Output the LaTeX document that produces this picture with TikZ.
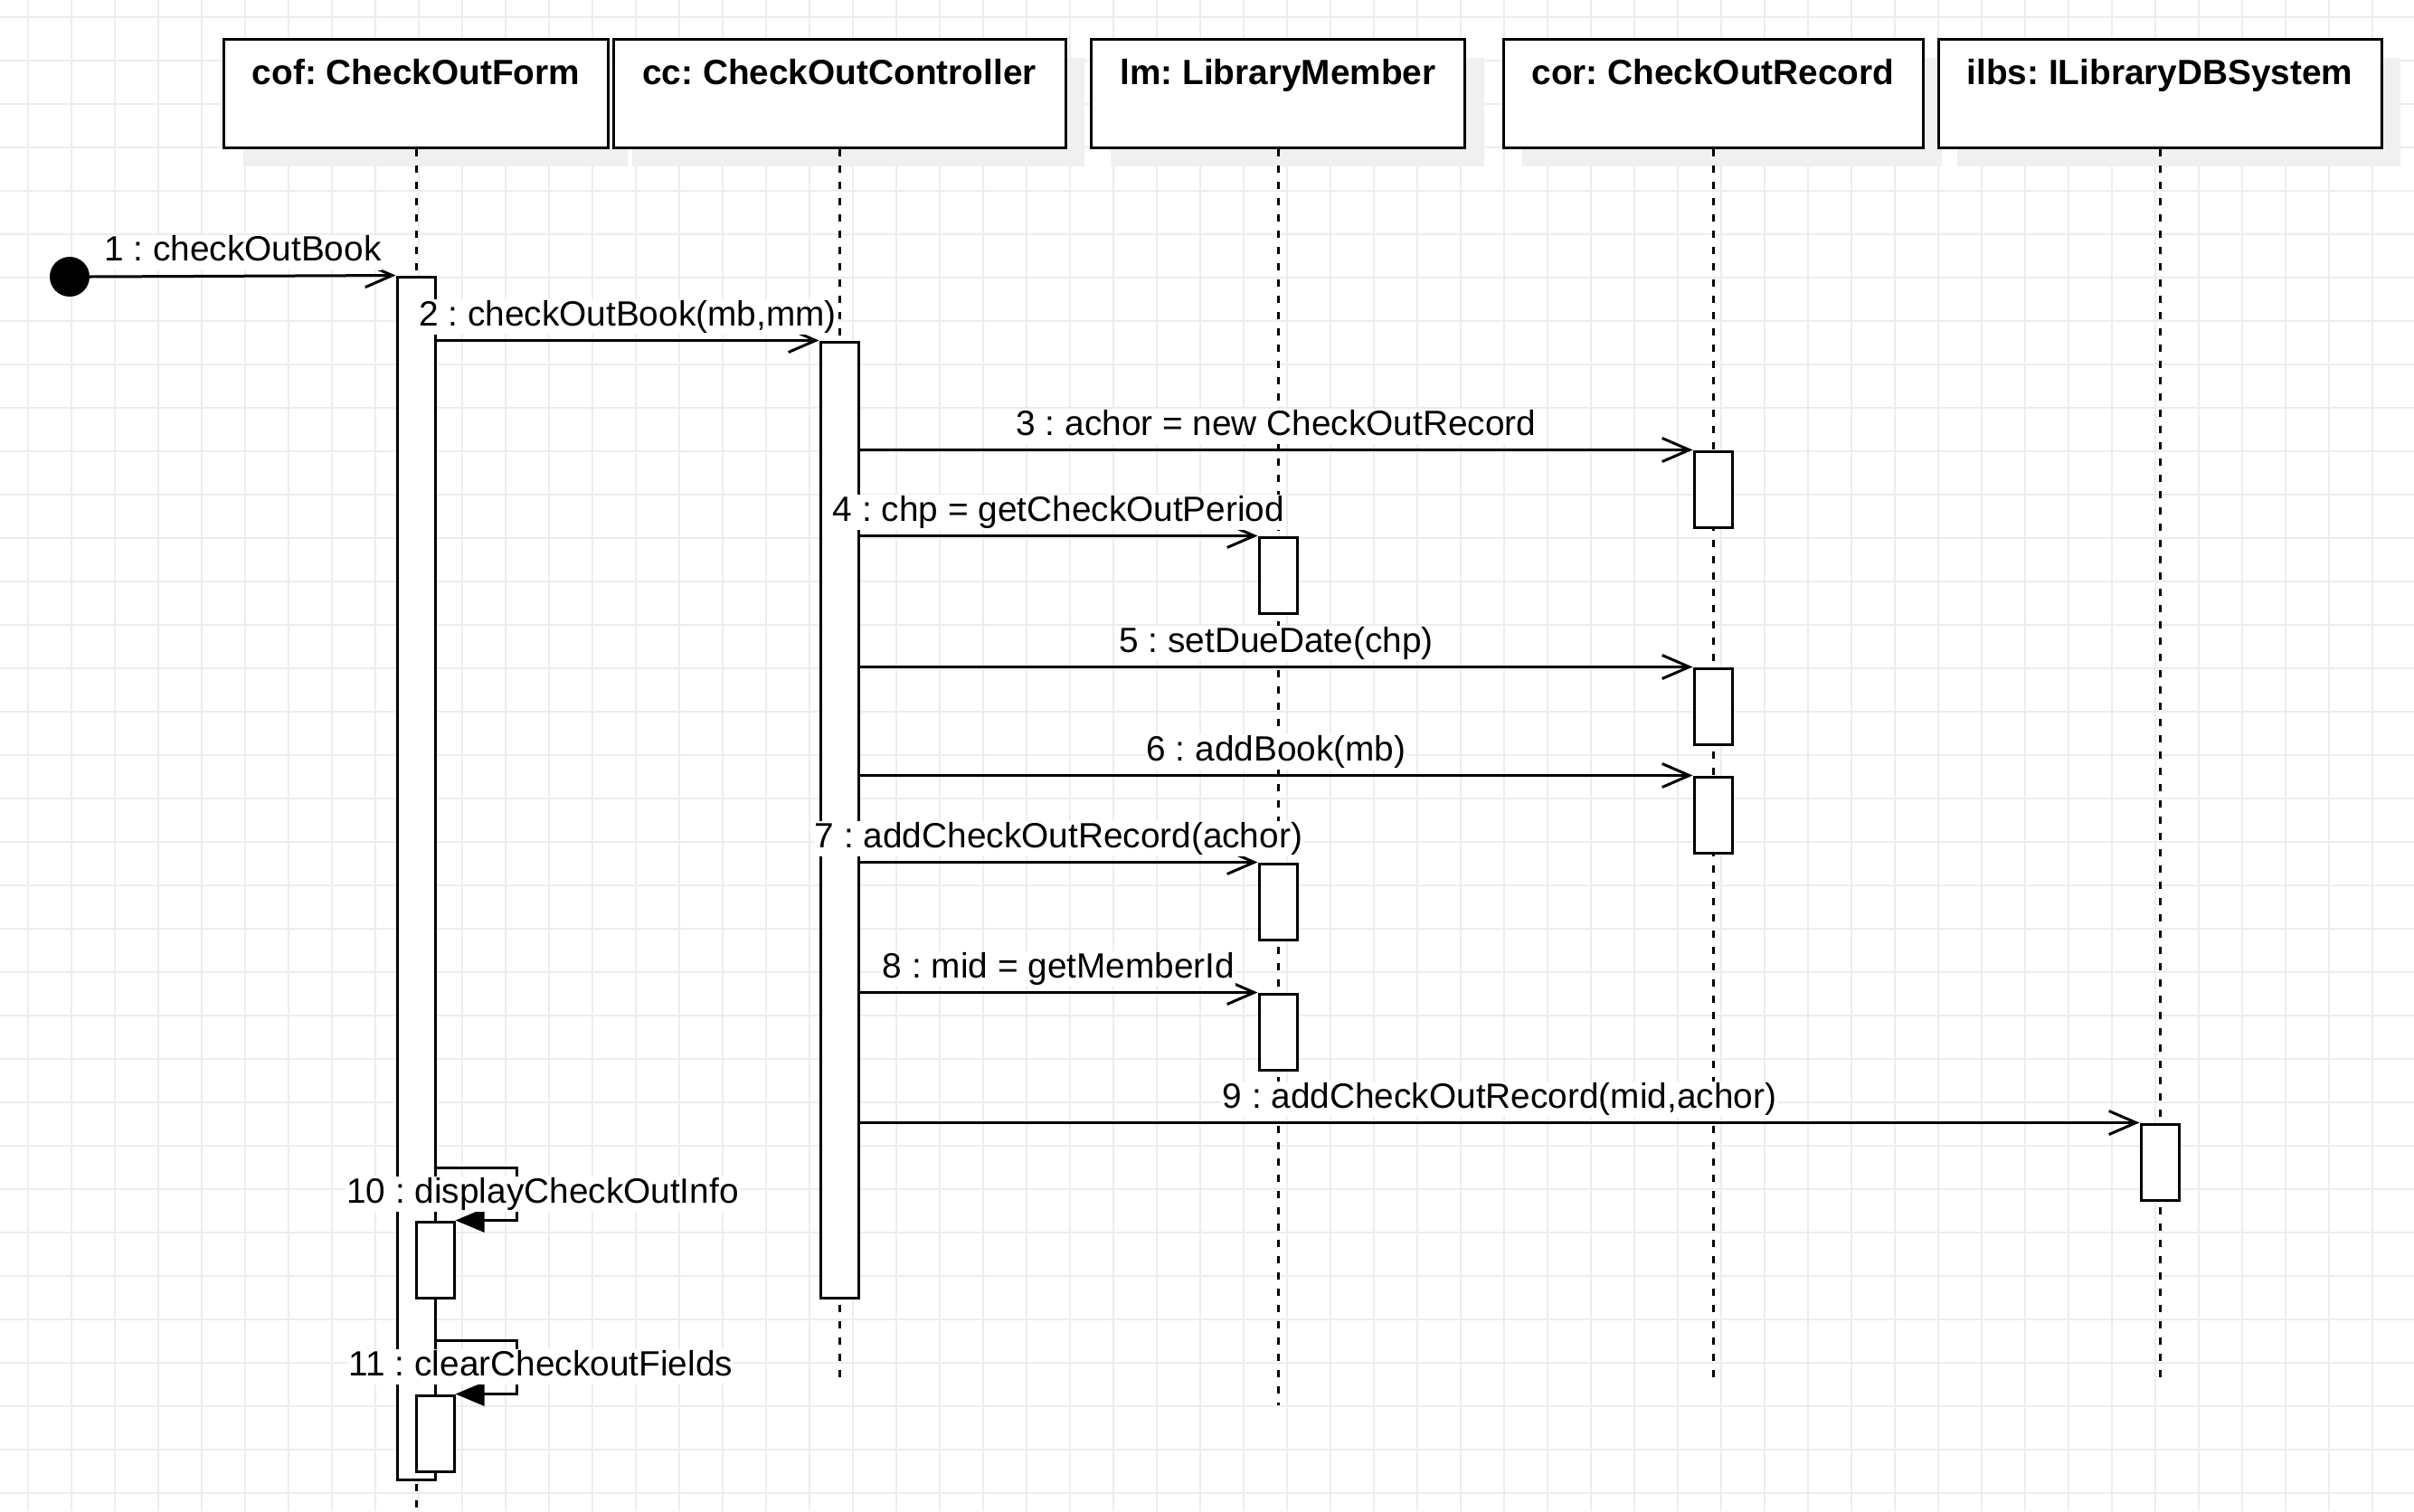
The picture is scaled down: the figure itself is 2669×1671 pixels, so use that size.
\documentclass[tikz,border=0pt]{standalone}
\usepackage{fontspec}
\setmainfont{Liberation Sans}
\usetikzlibrary{arrows.meta,calc,shadows}
\definecolor{gridc}{HTML}{EDEDED}
\definecolor{shadec}{HTML}{F0F0F0}
\begin{document}
\frenchspacing
\begin{tikzpicture}[x=1pt,y=-1pt,
  gridline/.style={draw=gridc, line width=1.8pt},
  headbox/.style={draw=black, fill=white, line width=3pt, minimum height=120pt, inner sep=0pt,
    drop shadow={shadow xshift=21pt, shadow yshift=-21pt, fill=shadec, opacity=1}},
  headtext/.style={font=\fontsize{38.8pt}{46pt}\selectfont\bfseries, inner sep=0pt, anchor=base},
  lifeline/.style={line width=3pt, dash pattern=on 8pt off 10pt},
  actbar/.style={draw=black, fill=white, line width=3pt, minimum width=42pt, inner sep=0pt},
  msg/.style={line width=3pt, -{Straight Barb[length=30pt,width=26pt]}},
  selfmsg/.style={line width=3pt, line join=miter, -{Triangle[length=32pt,width=26pt]}},
  labelbase/.style={font=\fontsize{38.8pt}{46pt}\selectfont, fill=white, inner xsep=1pt,
    inner ysep=1pt, text height=28pt, text depth=9pt, anchor=base},
  msglabel/.style={labelbase, yshift=16.5pt},
]
% canvas
\useasboundingbox[fill=white] (0,0) rectangle (2669,1671);
\foreach \gx in {0,...,54} \draw[gridline] ({31+48*\gx},0) -- ({31+48*\gx},1671);
\foreach \gy in {0,...,34} \draw[gridline] (0,{19+48*\gy}) -- (2669,{19+48*\gy});

% object headers
\node[headbox, minimum width=425pt] (cof)  at (460,103)  {};
\node[headbox, minimum width=500pt] (cc)   at (928,103)  {};
\node[headbox, minimum width=413pt] (lm)   at (1413,103) {};
\node[headbox, minimum width=464pt] (cor)  at (1894,103) {};
\node[headbox, minimum width=490pt] (ilbs) at (2388,103) {};
\node[headtext] (tcof)  at ([yshift=-52pt]cof.north)  {cof: CheckOutForm};
\node[headtext] (tcc)   at ([yshift=-52pt]cc.north)   {cc: CheckOutController};
\node[headtext] (tlm)   at ([yshift=-52pt]lm.north)   {lm: LibraryMember};
\node[headtext] (tcor)  at ([yshift=-52pt]cor.north)  {cor: CheckOutRecord};
\node[headtext] (tilbs) at ([yshift=-52pt]ilbs.north) {ilbs: ILibraryDBSystem};

% lifelines
\coordinate (ecof)  at (460,1671);
\coordinate (ecc)   at (928,1524);
\coordinate (elm)   at (1413,1554);
\coordinate (ecor)  at (1894,1524);
\coordinate (eilbs) at (2388,1524);
\draw[lifeline] (cof.south)  -- (ecof);
\draw[lifeline] (cc.south)   -- (ecc);
\draw[lifeline] (lm.south)   -- (elm);
\draw[lifeline] (cor.south)  -- (ecor);
\draw[lifeline] (ilbs.south) -- (eilbs);

% activation bars
\node[actbar, minimum height=1330pt] (acof)  at (460,971)   {};
\node[actbar, minimum height=1057pt] (acc)   at (928,906.5) {};
\node[actbar, minimum height=84pt]   (acor1) at (1894,541)  {};
\node[actbar, minimum height=84pt]   (alm1)  at (1413,636)  {};
\node[actbar, minimum height=84pt]   (acor2) at (1894,781)  {};
\node[actbar, minimum height=84pt]   (acor3) at (1894,901)  {};
\node[actbar, minimum height=84pt]   (alm2)  at (1413,997)  {};
\node[actbar, minimum height=84pt]   (alm3)  at (1413,1141) {};
\node[actbar, minimum height=84pt]   (ailbs) at (2388,1285) {};
\node[actbar, minimum height=84pt]   (aself1) at (481,1393) {};
\node[actbar, minimum height=84pt]   (aself2) at (481,1585) {};

% initial message source
\node[circle, fill=black, minimum size=44pt, inner sep=0pt] (start) at (77,306) {};

% messages
\draw[msg] (start.east) -- (acof.north west);
\draw[msg] (acof.east |- acc.north west) -- (acc.north west);
\draw[msg] (acc.east |- acor1.north west) -- (acor1.north west);
\draw[msg] (acc.east |- alm1.north west) -- (alm1.north west);
\draw[msg] (acc.east |- acor2.north west) -- (acor2.north west);
\draw[msg] (acc.east |- acor3.north west) -- (acor3.north west);
\draw[msg] (acc.east |- alm2.north west) -- (alm2.north west);
\draw[msg] (acc.east |- alm3.north west) -- (alm3.north west);
\draw[msg] (acc.east |- ailbs.north west) -- (ailbs.north west);
\coordinate (s10) at (481,1291);
\coordinate (s11) at (481,1482);
\draw[selfmsg] (s10) -- ++(90,0) |- (aself1.north east);
\draw[selfmsg] (s11) -- ++(90,0) |- (aself2.north east);

% message labels
\node[msglabel] (l1) at ($(start.east)!.5!(acof.north west)$) {1 : checkOutBook};
\node[msglabel] (l2) at ($(acof.east |- acc.north west)!.5!(acc.north west)$) {2 : checkOutBook(mb,mm)};
\node[msglabel] (l3) at ($(acc.east |- acor1.north west)!.5!(acor1.north west)$) {3 : achor = new CheckOutRecord};
\node[msglabel] (l4) at ($(acc.east |- alm1.north west)!.5!(alm1.north west)$) {4 : chp = getCheckOutPeriod};
\node[msglabel] (l5) at ($(acc.east |- acor2.north west)!.5!(acor2.north west)$) {5 : setDueDate(chp)};
\node[msglabel] (l6) at ($(acc.east |- acor3.north west)!.5!(acor3.north west)$) {6 : addBook(mb)};
\node[msglabel] (l7) at ($(acc.east |- alm2.north west)!.5!(alm2.north west)$) {7 : addCheckOutRecord(achor)};
\node[msglabel] (l8) at ($(acc.east |- alm3.north west)!.5!(alm3.north west)$) {8 : mid = getMemberId};
\node[msglabel] (l9) at ($(acc.east |- ailbs.north west)!.5!(ailbs.north west)$) {9 : addCheckOutRecord(mid,achor)};
\node[labelbase] (l10) at (600,1330) {10 : displayCheckOutInfo};
\node[labelbase] (l11) at (598,1521) {11 : clearCheckoutFields};
\end{tikzpicture}
\end{document}
